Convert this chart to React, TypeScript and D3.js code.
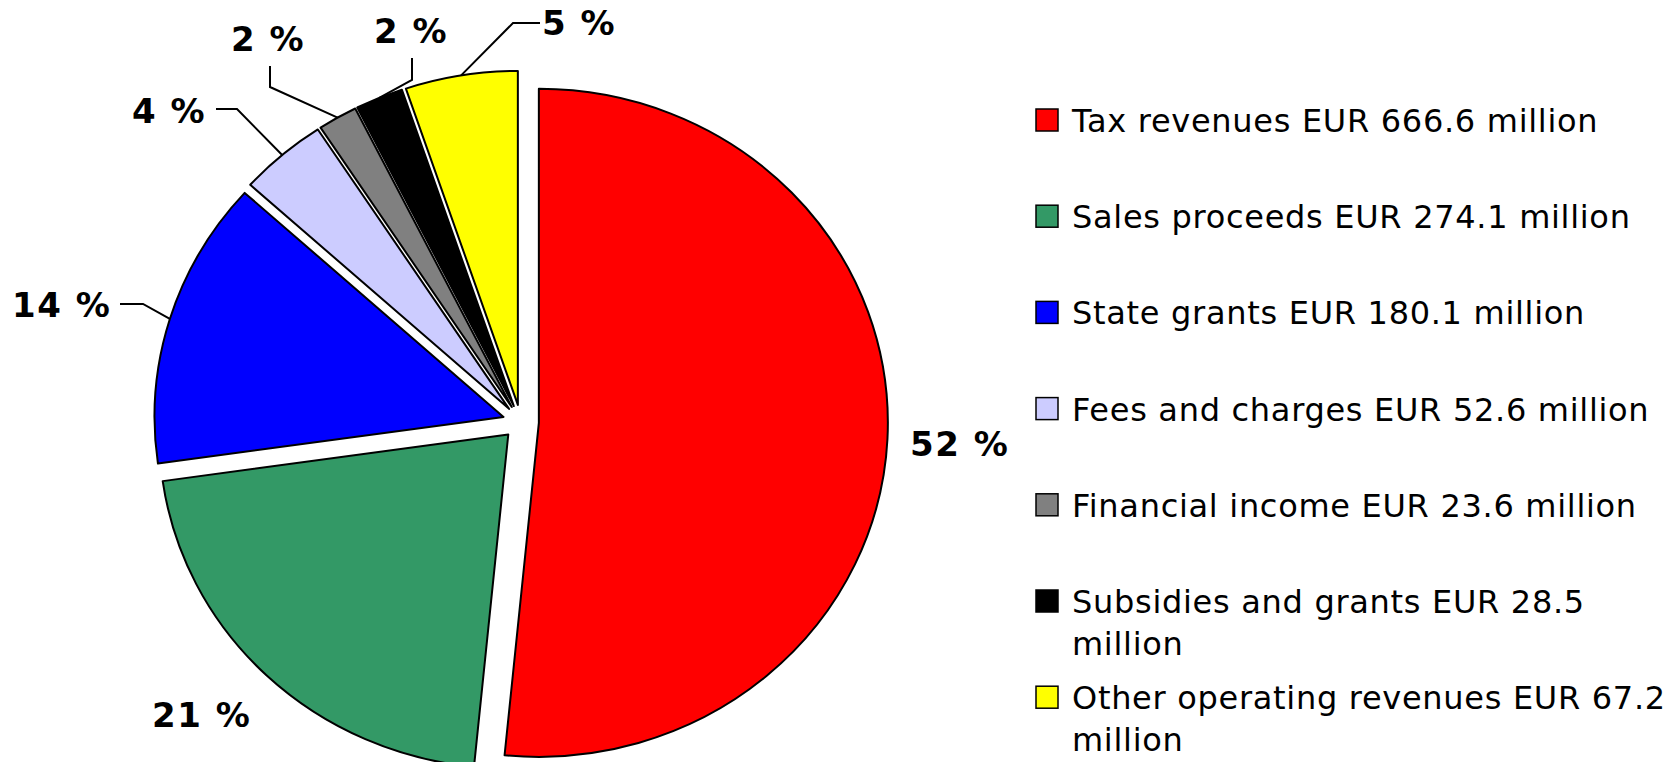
import React from "react";
import * as d3 from "d3";

const categories = [
  "Tax revenues",
  "Sales proceeds",
  "State grants",
  "Fees and charges",
  "Financial income",
  "Subsidies and grants",
  "Other operating revenues",
];
const valuesMEUR = [666.6, 274.1, 180.1, 52.6, 23.6, 28.5, 67.2];
const percentLabels = ["52 %", "21 %", "14 %", "4 %", "2 %", "2 %", "5 %"];
const colors = ["#FF0000", "#339966", "#0000FF", "#CCCCFF", "#808080", "#000000", "#FFFF00"];

// layout (positions of the percentage labels and their leader elbows)
type LabelLayout = { x: number; y: number; leader: [number, number][] };
const labelLayout: LabelLayout[] = [
  { x: 910, y: 456, leader: [] },
  { x: 152, y: 727, leader: [] },
  { x: 12, y: 317, leader: [[120, 304], [143, 304]] },
  { x: 132, y: 123, leader: [[216, 109], [237, 109]] },
  { x: 231, y: 51, leader: [[270, 66], [270, 87]] },
  { x: 374, y: 43, leader: [[412, 58], [412, 80]] },
  { x: 542, y: 35, leader: [[540, 23], [513, 23]] },
];

const W = 1670;
const H = 762;
const CX = 520.8;
const CY = 422;
const R = 334;
const SX = 349 / 334;
const EXPLODE = 17.3;

const LEG_SQ_X = 1036;
const LEG_TEXT_X = 1072;
const LEG_BASE0 = 132;
const LEG_STEP = 96.2;
const LEG_LINE = 42;

export default function App() {
  const pie = d3
    .pie<number>()
    .sort(null)
    .value((d) => d)
    .startAngle(0)
    .endAngle(2 * Math.PI);
  const arcs = pie(valuesMEUR);
  const arc = d3.arc<d3.PieArcDatum<number>>().innerRadius(0).outerRadius(R);

  const slices = arcs.map((a, i) => {
    const mid = (a.startAngle + a.endAngle) / 2;
    const ox = EXPLODE * Math.sin(mid);
    const oy = -EXPLODE * Math.cos(mid);
    const edge: [number, number] = [
      CX + SX * (ox + R * Math.sin(mid)),
      CY + oy - R * Math.cos(mid),
    ];
    return { a, i, ox, oy, edge };
  });

  const legendItems = categories.map((c, i) => {
    const full = `${c} EUR ${valuesMEUR[i].toFixed(1)} million`;
    const lines =
      full.length > 35 ? [`${c} EUR ${valuesMEUR[i].toFixed(1)}`, "million"] : [full];
    return { lines, color: colors[i], base: LEG_BASE0 + LEG_STEP * i };
  });

  return (
    <svg
      width={W}
      height={H}
      viewBox={`0 0 ${W} ${H}`}
      style={{ position: "absolute", left: 0, top: 0, background: "#fff" }}
    >
      <g transform={`translate(${CX},${CY}) scale(${SX},1)`}>
        {slices.map((s) => (
          <path
            key={s.i}
            d={arc(s.a) || ""}
            transform={`translate(${s.ox},${s.oy})`}
            fill={colors[s.i]}
            stroke="#000"
            strokeWidth={2}
            strokeLinejoin="round"
            vectorEffect="non-scaling-stroke"
          />
        ))}
      </g>
      {slices.map((s) => {
        const L = labelLayout[s.i];
        const pts = L.leader.length ? [...L.leader, s.edge] : [];
        return (
          <g key={"l" + s.i}>
            {pts.length > 0 && (
              <polyline
                points={pts.map((p) => p.join(",")).join(" ")}
                fill="none"
                stroke="#000"
                strokeWidth={2}
              />
            )}
            <text
              x={L.x}
              y={L.y}
              fontFamily="'DejaVu Sans', Verdana, sans-serif"
              fontWeight="bold"
              fontSize={34}
              letterSpacing={1.5}
              fill="#000"
            >
              {percentLabels[s.i]}
            </text>
          </g>
        );
      })}
      {legendItems.map((it, i) => (
        <g key={"g" + i}>
          <rect
            x={LEG_SQ_X}
            y={it.base - 23}
            width={22}
            height={22}
            fill={it.color}
            stroke="#000"
            strokeWidth={1.5}
          />
          {it.lines.map((ln, j) => (
            <text
              key={j}
              x={LEG_TEXT_X}
              y={it.base + j * LEG_LINE}
              fontFamily="'DejaVu Sans', Tahoma, sans-serif"
              fontSize={32}
              letterSpacing={0.7}
              fill="#000"
            >
              {ln}
            </text>
          ))}
        </g>
      ))}
    </svg>
  );
}
